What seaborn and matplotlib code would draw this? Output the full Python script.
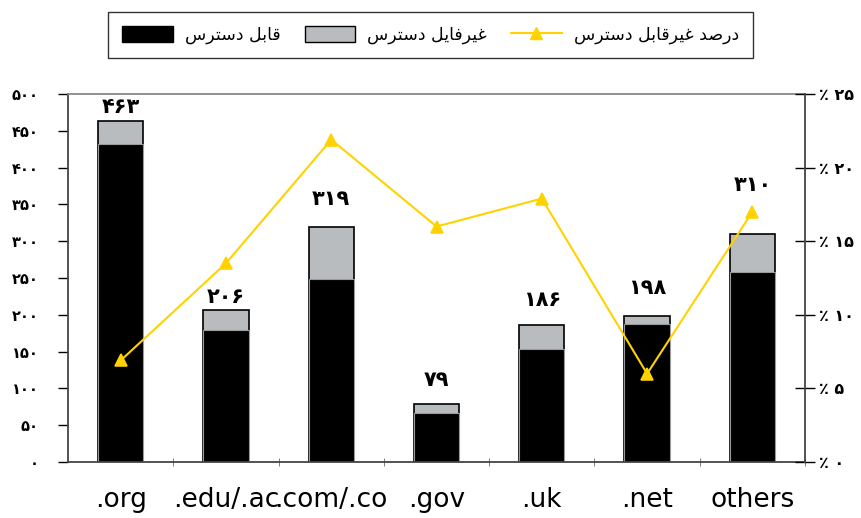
import numpy as np
import pandas as pd
import matplotlib
matplotlib.use('Agg')
import matplotlib.pyplot as plt
import seaborn as sns

# data
domains = ['.org', '.edu/.ac', '.com/.co', '.gov', '.uk', '.net', 'others']
total = [463, 206, 319, 79, 186, 198, 310]
accessible = [432, 179, 249, 67, 153, 187, 258]
pct_inaccessible = [6.9, 13.5, 21.9, 16.0, 17.9, 6.0, 17.0]
left_ticks = [0, 50, 100, 150, 200, 250, 300, 350, 400, 450, 500]
right_ticks = [0, 5, 10, 15, 20, 25]

# label offsets above bar tops (pixels), the original places them by hand
label_pad = [14, 13, 28, 24, 25, 28, 49]

# --- tiny persian shaper (matplotlib has no complex text layout) ---
FORMS = {
    'ا': (0xFE8D, 0xFE8E, None, None),
    'ب': (0xFE8F, 0xFE90, 0xFE91, 0xFE92),
    'ت': (0xFE95, 0xFE96, 0xFE97, 0xFE98),
    'د': (0xFEA9, 0xFEAA, None, None),
    'ر': (0xFEAD, 0xFEAE, None, None),
    'س': (0xFEB1, 0xFEB2, 0xFEB3, 0xFEB4),
    'ص': (0xFEB9, 0xFEBA, 0xFEBB, 0xFEBC),
    'غ': (0xFECD, 0xFECE, 0xFECF, 0xFED0),
    'ف': (0xFED1, 0xFED2, 0xFED3, 0xFED4),
    'ق': (0xFED5, 0xFED6, 0xFED7, 0xFED8),
    'ل': (0xFEDD, 0xFEDE, 0xFEDF, 0xFEE0),
    'ی': (0xFBFC, 0xFBFD, 0xFBFE, 0xFBFF),
}


def shape(text):
    out = []
    chars = list(text)
    for i, c in enumerate(chars):
        if c not in FORMS:
            out.append(c)
            continue
        prev = chars[i - 1] if i > 0 else None
        nxt = chars[i + 1] if i < len(chars) - 1 else None
        joins_prev = prev in FORMS and FORMS[prev][2] is not None
        joins_next = nxt in FORMS and FORMS[c][2] is not None
        iso, fin, ini, med = FORMS[c]
        if joins_prev and joins_next:
            out.append(chr(med))
        elif joins_prev:
            out.append(chr(fin))
        elif joins_next:
            out.append(chr(ini))
        else:
            out.append(chr(iso))
    return ''.join(out)[::-1]


def fa_digits(n):
    return ''.join(chr(0x06F0 + int(d)) for d in str(n))


df = pd.DataFrame({'domain': domains, 'total': total, 'accessible': accessible})

plt.rcParams['font.family'] = ['DejaVu Sans']
fig = plt.figure(figsize=(8.61, 5.18), dpi=100)
ax = fig.add_axes([0.079, 0.108, 0.856, 0.7105])

sns.barplot(data=df, x='domain', y='total', color='#b8bcbe', edgecolor='black',
            linewidth=1.2, width=0.43, saturation=1, ax=ax)
sns.barplot(data=df, x='domain', y='accessible', color='black', edgecolor='#9a9a9a',
            linewidth=0.8, width=0.43, saturation=1, ax=ax)

for i, (t, p) in enumerate(zip(total, label_pad)):
    ax.annotate(fa_digits(t), (i, t), xytext=(0, p), textcoords='offset pixels',
                ha='center', va='center', fontsize=15, fontweight='bold')

ax.set_ylim(0, 500)
ax.set_xlim(-0.5, len(domains) - 0.5)
ax.set_yticks(left_ticks)
ax.set_yticklabels([fa_digits(v) for v in left_ticks], fontsize=10.5, fontweight='bold')
ax.tick_params(axis='y', direction='out', length=7, width=1, pad=14)
ax.tick_params(axis='x', length=0, pad=18, labelsize=19)
ax.set_xticks(np.arange(len(domains)) + 0.5, minor=True)
ax.tick_params(axis='x', which='minor', length=6, direction='inout', color='#666')
ax.set_xlabel('')
ax.set_ylabel('')
for s in ['left', 'bottom']:
    ax.spines[s].set_color('#444')
    ax.spines[s].set_linewidth(1.3)
ax.spines['top'].set_color('#888')
ax.spines['top'].set_linewidth(1.3)
ax.spines['right'].set_visible(False)

ax2 = ax.twinx()
sns.pointplot(x=domains, y=pct_inaccessible, color='#ffd200', markers='^',
              markersize=8, linewidth=1.5, ax=ax2)
ax2.set_ylim(0, 25)
ax2.set_xlim(-0.5, len(domains) - 0.5)
ax2.set_yticks(right_ticks)
ax2.set_yticklabels(['٪ ' + fa_digits(v) for v in right_ticks], fontsize=11.5, fontweight='bold')
ax2.tick_params(axis='y', direction='inout', length=14, width=1, pad=3)
for s in ['left', 'top', 'bottom']:
    ax2.spines[s].set_visible(False)
ax2.spines['right'].set_color('#444')
ax2.spines['right'].set_linewidth(1.3)
ax2.set_ylabel('')

handles = [
    plt.Rectangle((0, 0), 1, 1, facecolor='black', edgecolor='black'),
    plt.Rectangle((0, 0), 1, 1, facecolor='#b8bcbe', edgecolor='black'),
    plt.Line2D([], [], color='#ffd200', marker='^', markersize=8, linewidth=1.5),
]
labels = [shape('قابل دسترس'), shape('غیرفایل دسترس'), shape('درصد غیرقابل دسترس')]
leg = fig.legend(handles, labels, loc='center', bbox_to_anchor=(0.5, 0.932), ncol=3,
                 fontsize=12.5, frameon=True, fancybox=False, edgecolor='black',
                 handlelength=2.9, handleheight=1.0, handletextpad=0.7,
                 columnspacing=1.4, borderpad=0.8)
leg.get_frame().set_linewidth(1)

fig.savefig('out.png', dpi=100)
